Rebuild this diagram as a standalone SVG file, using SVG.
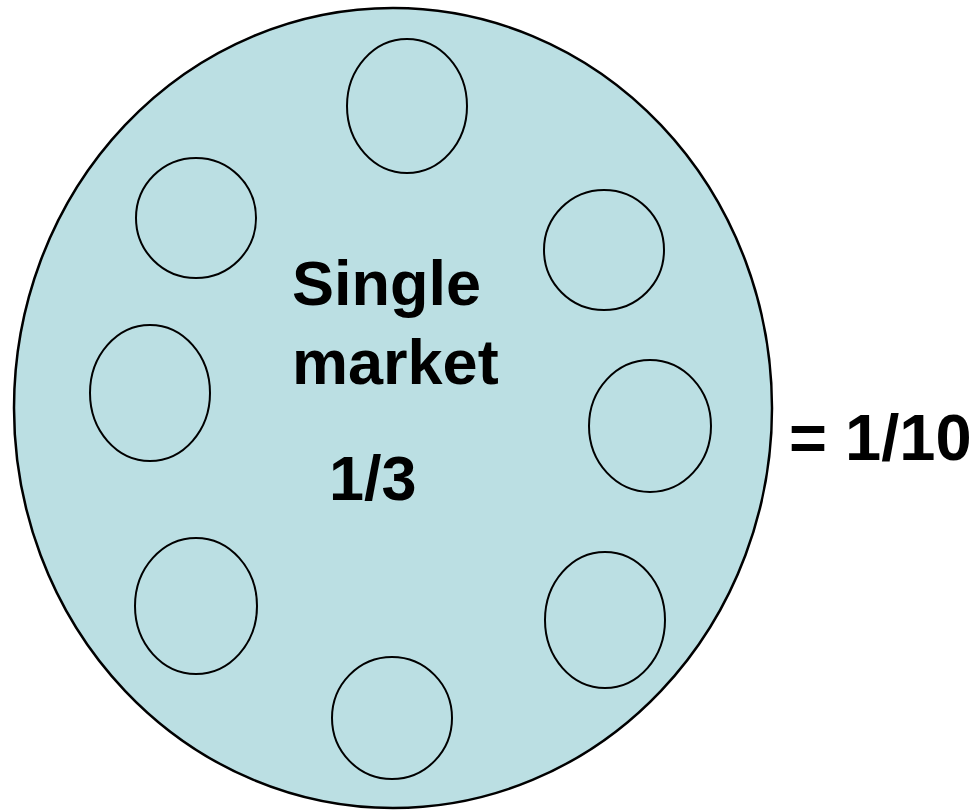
<svg xmlns="http://www.w3.org/2000/svg" width="973" height="811" viewBox="0 0 973 811">
<style>
.big{fill:#BBDFE3;stroke:#000;stroke-width:2.5}
.sm{fill:none;stroke:#000;stroke-width:2}
.t{font-family:"Liberation Sans",Arial,sans-serif;font-weight:bold;font-size:63px;fill:#000}
</style>
<rect width="973" height="811" fill="#fff"/>
<g id="market"><ellipse class="big" cx="393" cy="408" rx="379" ry="400"/></g>
<g id="c1"><ellipse class="sm" cx="407" cy="106" rx="60" ry="67"/></g>
<g id="c2"><ellipse class="sm" cx="196" cy="218" rx="60" ry="60"/></g>
<g id="c3"><ellipse class="sm" cx="604" cy="250" rx="60" ry="60"/></g>
<g id="c4"><ellipse class="sm" cx="150" cy="393" rx="60" ry="68"/></g>
<g id="c5"><ellipse class="sm" cx="650" cy="426" rx="61" ry="66"/></g>
<g id="c6"><ellipse class="sm" cx="196" cy="606" rx="61" ry="68"/></g>
<g id="c7"><ellipse class="sm" cx="605" cy="620" rx="60" ry="68"/></g>
<g id="c8"><ellipse class="sm" cx="392" cy="718" rx="60" ry="61"/></g>
<g id="labels">
<text class="t" x="292" y="305">Single</text>
<text class="t" x="292" y="384">market</text>
<text class="t" x="329" y="500">1/3</text>
<text class="t" x="789" y="460" style="font-size:65px">= 1/10</text>
</g>
</svg>
